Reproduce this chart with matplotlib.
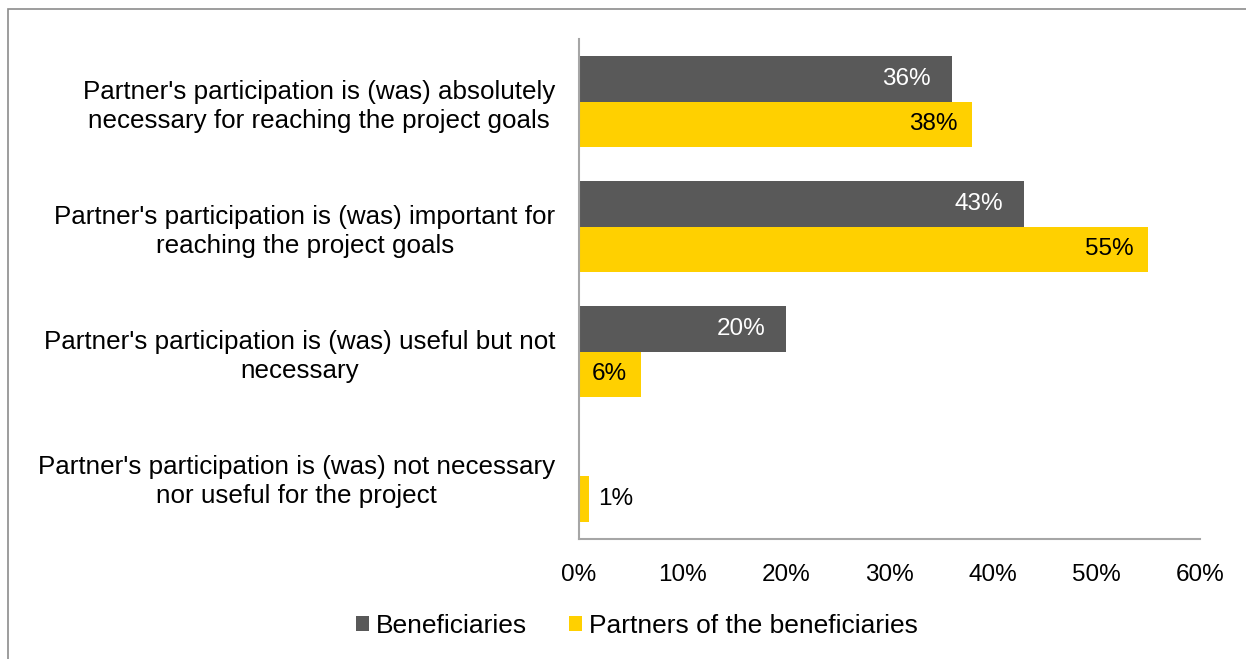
import matplotlib.pyplot as plt
from matplotlib.patches import Rectangle

plt.rcParams['font.family'] = ['Liberation Sans', 'DejaVu Sans']

categories = [
    "Partner's participation is (was) absolutely\nnecessary for reaching the project goals",
    "Partner's participation is (was) important for\nreaching the project goals",
    "Partner's participation is (was) useful but not\nnecessary",
    "Partner's participation is (was) not necessary\nnor useful for the project",
]
beneficiaries = [36, 43, 20, 0]
partners = [38, 55, 6, 1]
series_names = ['Beneficiaries', 'Partners of the beneficiaries']
xticks = [0, 10, 20, 30, 40, 50, 60]

dark = '#595959'
yellow = '#FFD000'

fig = plt.figure(figsize=(12.46, 6.59), dpi=100)
ax = fig.add_axes([0.4647, 0.1821, 0.4984, 0.7587])

# outer chart border
fig.patches.append(Rectangle((0.0064, -0.05), 1.1, 1.036, transform=fig.transFigure,
                             fill=False, edgecolor='#8C8C8C', linewidth=1.2, zorder=0))

h = 0.364
y = list(range(len(categories)))
b1 = ax.barh([i - h / 2 for i in y], beneficiaries, height=h, color=dark,
             label=series_names[0])
b2 = ax.barh([i + h / 2 for i in y], partners, height=h, color=yellow,
             label=series_names[1])

for i, v in enumerate(beneficiaries):
    if v > 0:
        ax.text(v - 2.0, i - h / 2, f'{v}%', ha='right', va='center',
                color='white', fontsize=17.5)
for i, v in enumerate(partners):
    if v >= 5:
        ax.text(v - 1.4, i + h / 2, f'{v}%', ha='right', va='center',
                color='black', fontsize=17.5)
    else:
        ax.text(v + 0.8, i + h / 2, f'{v}%', ha='left', va='center',
                color='black', fontsize=17.5)

ax.set_xlim(0, 60)
ax.set_ylim(3.5, -0.5)
ax.set_xticks(xticks)
ax.set_xticklabels([f'{t}%' for t in xticks], fontsize=17.5)
ax.set_yticks(y)
ax.set_yticklabels(categories, fontsize=18.7, ma='center', linespacing=1.25)
ax.tick_params(axis='both', length=0)
ax.tick_params(axis='x', pad=18)
ax.tick_params(axis='y', pad=17)

for s in ['top', 'right']:
    ax.spines[s].set_visible(False)
for s in ['left', 'bottom']:
    ax.spines[s].set_color('#A6A6A6')
    ax.spines[s].set_linewidth(1.5)

fig.legend(handles=[b1, b2], loc='center', bbox_to_anchor=(637 / 1246, 1 - 626 / 659),
           ncol=2, frameon=False, fontsize=19, handlelength=0.5, handleheight=0.5,
           handletextpad=0.25, columnspacing=1.6)

fig.savefig('out.png', dpi=100)
